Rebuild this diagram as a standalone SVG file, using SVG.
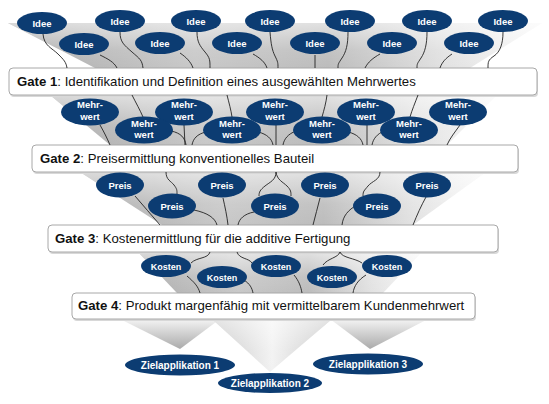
<svg xmlns="http://www.w3.org/2000/svg" width="549" height="404" viewBox="0 0 549 404">
<defs>
<linearGradient id="gh" x1="0" y1="0" x2="1" y2="0">
<stop offset="0" stop-color="#acacac"/>
<stop offset="0.35" stop-color="#c8c8c8"/>
<stop offset="0.6" stop-color="#bcbcbc"/>
<stop offset="0.82" stop-color="#e2e2e2"/>
<stop offset="1" stop-color="#f8f8f8"/>
</linearGradient>
<linearGradient id="gv" x1="0" y1="0" x2="0" y2="1">
<stop offset="0" stop-color="#ffffff" stop-opacity="0.55"/>
<stop offset="0.6" stop-color="#ffffff" stop-opacity="0.1"/>
<stop offset="1" stop-color="#ffffff" stop-opacity="0"/>
</linearGradient>
<linearGradient id="gt" x1="0" y1="0" x2="0" y2="1">
<stop offset="0" stop-color="#f4f4f4"/>
<stop offset="1" stop-color="#aaaaaa"/>
</linearGradient>
<linearGradient id="gt2" x1="0" y1="0" x2="1" y2="0">
<stop offset="0" stop-color="#c4c4c4"/>
<stop offset="0.5" stop-color="#f2f2f2"/>
<stop offset="1" stop-color="#c4c4c4"/>
</linearGradient>
</defs>
<style>
.f{fill:url(#gh)}
.o{fill:url(#gv)}
.box{fill:#fff;stroke:#a8a8a8;stroke-width:1}
.sh{fill:#d8d8d8}
.gt{font-family:"Liberation Sans",Arial,sans-serif;font-size:13.2px;fill:#111}
.gt tspan.b{font-weight:bold}
.n{fill:#0c3c72}
.t{font-family:"Liberation Sans",Arial,sans-serif;font-size:9.5px;font-weight:bold;fill:#fff;text-anchor:middle}
.k{font-size:9px}
.z{font-size:10px}
#connectors path{fill:none;stroke:#222;stroke-width:0.9}
</style>
<rect width="549" height="404" fill="#fff"/>
<g id="funnel">
<polygon class="f" points="8,23 542,23 470,68 95,68"/>
<polygon class="o" points="8,23 542,23 470,68 95,68"/>
<polygon class="f" points="50,95 497,95 447,145 110,145"/>
<polygon class="o" points="50,95 497,95 447,145 110,145"/>
<polygon class="f" points="80,172 486,172 413,225 162,225"/>
<polygon class="o" points="80,172 486,172 413,225 162,225"/>
<polygon class="f" points="138,252 422,252 383,293 177,293"/>
<polygon class="o" points="138,252 422,252 383,293 177,293"/>
<polygon fill="url(#gt)" points="120,319 220,319 180,349"/>
<polygon fill="url(#gt)" points="330,319 428,319 370,349"/>
<polygon fill="url(#gt2)" points="212,319 332,319 270,372"/>
<polygon fill="url(#gv)" points="212,319 332,319 270,372"/>
</g>
<g id="gate1">
<rect class="sh" x="10" y="70" width="528" height="27" rx="4"/>
<rect class="box" x="9" y="68" width="528" height="27" rx="4"/>
<text class="gt" x="17" y="86"><tspan class="b">Gate 1</tspan>: Identifikation und Definition eines ausgewählten Mehrwertes</text>
</g>
<g id="gate2">
<rect class="sh" x="33" y="147" width="486" height="27" rx="4"/>
<rect class="box" x="32" y="145" width="486" height="27" rx="4"/>
<text class="gt" x="40" y="163"><tspan class="b">Gate 2</tspan>: Preisermittlung konventionelles Bauteil</text>
</g>
<g id="gate3">
<rect class="sh" x="49" y="227" width="450" height="27" rx="4"/>
<rect class="box" x="48" y="225" width="450" height="27" rx="4"/>
<text class="gt" x="55" y="243"><tspan class="b">Gate 3</tspan>: Kostenermittlung für die additive Fertigung</text>
</g>
<g id="gate4">
<rect class="sh" x="73" y="295" width="403" height="26" rx="4"/>
<rect class="box" x="72" y="293" width="403" height="26" rx="4"/>
<text class="gt" x="78" y="310"><tspan class="b">Gate 4</tspan>: Produkt margenfähig mit vermittelbarem Kundenmehrwert</text>
</g>
<g id="connectors">
<path d="M43,34 C44,46 52,48 58,54 S66,62 67,68"/>
<path d="M100,55 C108,59 114,62 117,68"/>
<path d="M120,32 C120,42 124,45 132,52 S142,60 143,68"/>
<path d="M180,53 C186,57 191,62 193,68"/>
<path d="M197,32 C197,42 200,46 205,52 S210,60 210,68"/>
<path d="M253,54 C260,58 265,62 267,68"/>
<path d="M270,32 C271,44 272,50 275,56 S278,63 278,68"/>
<path d="M315,55 L315,68"/>
<path d="M348,32 C348,45 346,52 342,58 S338,64 338,68"/>
<path d="M380,54 C373,58 368,62 365,68"/>
<path d="M427,32 C427,44 425,52 421,58 S417,64 417,68"/>
<path d="M452,54 C446,58 442,62 440,68"/>
<path d="M503,32 C503,44 500,52 494,56 S488,62 488,68"/>
<path d="M132,95 C136,103 140,110 143,117"/>
<path d="M227,95 C229,103 231,110 232,117"/>
<path d="M327,95 C326,103 324,110 322,117"/>
<path d="M418,95 C415,103 412,110 410,117"/>
<path d="M100,125 C104,132 107,138 110,145"/>
<path d="M171,131 C181,133 185,138 186,145"/>
<path d="M184,125 L185,145"/>
<path d="M206,132 C197,134 193,139 192,145"/>
<path d="M258,132 C267,134 272,139 273,145"/>
<path d="M276,125 L276,145"/>
<path d="M296,131 C288,134 284,139 283,145"/>
<path d="M348,132 C357,134 362,139 363,145"/>
<path d="M367,125 L367,145"/>
<path d="M384,131 C377,134 373,139 372,145"/>
<path d="M460,125 C455,132 450,138 447,145"/>
<path d="M166,172 C166,180 171,181 174,185 S177,190 177,194"/>
<path d="M276,172 C276,180 270,182 265,186 S259,192 259,196"/>
<path d="M276,172 C277,180 283,182 287,186 S291,192 291,196"/>
<path d="M380,172 C380,180 372,181 368,186 S363,191 363,196"/>
<path d="M135,196 C143,206 152,215 160,225"/>
<path d="M194,210 C208,213 215,218 217,225"/>
<path d="M223,198 C225,207 227,216 228,225"/>
<path d="M254,212 C244,214 239,219 238,225"/>
<path d="M320,198 C318,207 315,216 313,225"/>
<path d="M357,205 C348,210 343,216 342,225"/>
<path d="M426,197 C421,206 417,215 413,225"/>
<path d="M210,252 C208,259 197,257 191,263"/>
<path d="M237,252 C239,259 249,258 252,263"/>
<path d="M340,252 C338,258 328,258 323,265"/>
<path d="M340,252 C342,258 355,258 362,263"/>
<path d="M187,276 C194,282 198,286 200,293"/>
<path d="M244,280 C250,284 252,288 253,293"/>
<path d="M294,275 C299,281 301,287 302,293"/>
<path d="M366,275 C358,280 354,286 353,293"/>
</g>
<g id="idee1"><ellipse class="n" cx="42" cy="23" rx="25" ry="11"/><text class="t" x="42" y="26.5">Idee</text></g>
<g id="idee2"><ellipse class="n" cx="120" cy="21" rx="25" ry="11"/><text class="t" x="120" y="24.5">Idee</text></g>
<g id="idee3"><ellipse class="n" cx="196" cy="21" rx="25" ry="11"/><text class="t" x="196" y="24.5">Idee</text></g>
<g id="idee4"><ellipse class="n" cx="270" cy="21" rx="25" ry="11"/><text class="t" x="270" y="24.5">Idee</text></g>
<g id="idee5"><ellipse class="n" cx="350" cy="21" rx="25" ry="11"/><text class="t" x="350" y="24.5">Idee</text></g>
<g id="idee6"><ellipse class="n" cx="427" cy="21" rx="25" ry="11"/><text class="t" x="427" y="24.5">Idee</text></g>
<g id="idee7"><ellipse class="n" cx="503" cy="21" rx="25" ry="11"/><text class="t" x="503" y="24.5">Idee</text></g>
<g id="idee8"><ellipse class="n" cx="84" cy="44" rx="25" ry="11"/><text class="t" x="84" y="47.5">Idee</text></g>
<g id="idee9"><ellipse class="n" cx="160" cy="43" rx="25" ry="11"/><text class="t" x="160" y="46.5">Idee</text></g>
<g id="idee10"><ellipse class="n" cx="237" cy="43" rx="25" ry="11"/><text class="t" x="237" y="46.5">Idee</text></g>
<g id="idee11"><ellipse class="n" cx="315" cy="43" rx="25" ry="11"/><text class="t" x="315" y="46.5">Idee</text></g>
<g id="idee12"><ellipse class="n" cx="392" cy="43" rx="25" ry="11"/><text class="t" x="392" y="46.5">Idee</text></g>
<g id="idee13"><ellipse class="n" cx="469" cy="43" rx="25" ry="11"/><text class="t" x="469" y="46.5">Idee</text></g>
<g id="mw1"><ellipse class="n" cx="90" cy="112" rx="29" ry="13.5"/><text class="t" x="90" y="108">Mehr-</text><text class="t" x="90" y="120">wert</text></g>
<g id="mw2"><ellipse class="n" cx="184" cy="112" rx="29" ry="13.5"/><text class="t" x="184" y="108">Mehr-</text><text class="t" x="184" y="120">wert</text></g>
<g id="mw3"><ellipse class="n" cx="275" cy="112" rx="29" ry="13.5"/><text class="t" x="275" y="108">Mehr-</text><text class="t" x="275" y="120">wert</text></g>
<g id="mw4"><ellipse class="n" cx="366" cy="112" rx="29" ry="13.5"/><text class="t" x="366" y="108">Mehr-</text><text class="t" x="366" y="120">wert</text></g>
<g id="mw5"><ellipse class="n" cx="458" cy="112" rx="29" ry="13.5"/><text class="t" x="458" y="108">Mehr-</text><text class="t" x="458" y="120">wert</text></g>
<g id="mw6"><ellipse class="n" cx="144" cy="130" rx="29" ry="13.5"/><text class="t" x="144" y="126.5">Mehr-</text><text class="t" x="144" y="138">wert</text></g>
<g id="mw7"><ellipse class="n" cx="232" cy="130" rx="29" ry="13.5"/><text class="t" x="232" y="126.5">Mehr-</text><text class="t" x="232" y="138">wert</text></g>
<g id="mw8"><ellipse class="n" cx="322" cy="130" rx="29" ry="13.5"/><text class="t" x="322" y="126.5">Mehr-</text><text class="t" x="322" y="138">wert</text></g>
<g id="mw9"><ellipse class="n" cx="409" cy="130" rx="29" ry="13.5"/><text class="t" x="409" y="126.5">Mehr-</text><text class="t" x="409" y="138">wert</text></g>
<g id="preis1"><ellipse class="n" cx="120" cy="185" rx="24" ry="12.5"/><text class="t" x="120" y="188.5">Preis</text></g>
<g id="preis2"><ellipse class="n" cx="222" cy="185" rx="24" ry="12.5"/><text class="t" x="222" y="188.5">Preis</text></g>
<g id="preis3"><ellipse class="n" cx="325" cy="185" rx="24" ry="12.5"/><text class="t" x="325" y="188.5">Preis</text></g>
<g id="preis4"><ellipse class="n" cx="427" cy="185" rx="24" ry="12.5"/><text class="t" x="427" y="188.5">Preis</text></g>
<g id="preis5"><ellipse class="n" cx="172" cy="206" rx="24" ry="12.5"/><text class="t" x="172" y="209.5">Preis</text></g>
<g id="preis6"><ellipse class="n" cx="275" cy="206" rx="24" ry="12.5"/><text class="t" x="275" y="209.5">Preis</text></g>
<g id="preis7"><ellipse class="n" cx="377" cy="206" rx="24" ry="12.5"/><text class="t" x="377" y="209.5">Preis</text></g>
<g id="kosten1"><ellipse class="n" cx="166" cy="266" rx="25" ry="11"/><text class="t k" x="166" y="269.5">Kosten</text></g>
<g id="kosten2"><ellipse class="n" cx="276" cy="266" rx="25" ry="11"/><text class="t k" x="276" y="269.5">Kosten</text></g>
<g id="kosten3"><ellipse class="n" cx="387" cy="266" rx="25" ry="11"/><text class="t k" x="387" y="269.5">Kosten</text></g>
<g id="kosten4"><ellipse class="n" cx="222" cy="277" rx="25" ry="11"/><text class="t k" x="222" y="280.5">Kosten</text></g>
<g id="kosten5"><ellipse class="n" cx="332" cy="277" rx="25" ry="11"/><text class="t k" x="332" y="280.5">Kosten</text></g>
<g id="ziel1"><ellipse class="n" cx="180" cy="365" rx="55" ry="10.5"/><text class="t z" x="180" y="368.5">Zielapplikation 1</text></g>
<g id="ziel2"><ellipse class="n" cx="270" cy="383" rx="52" ry="10"/><text class="t z" x="270" y="386.5">Zielapplikation 2</text></g>
<g id="ziel3"><ellipse class="n" cx="368" cy="364" rx="55" ry="10.5"/><text class="t z" x="368" y="367.5">Zielapplikation 3</text></g>
</svg>
